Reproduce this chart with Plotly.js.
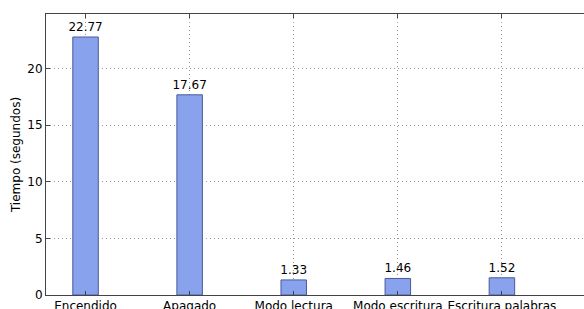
<!DOCTYPE html>
<html><head><meta charset="utf-8">
<script src="https://cdn.plot.ly/plotly-3.0.1.min.js"></script>
<style>html,body{margin:0;padding:0;overflow:hidden;background:#fff}#c{width:620px;height:340px}</style>
</head><body><div id="c"></div>
<script>
const categories = ["Encendido", "Apagado", "Modo lectura", "Modo escritura", "Escritura palabras"];
const tiempos = [22.77, 17.67, 1.33, 1.46, 1.52];
const yTicks = [0, 5, 10, 15, 20];

const trace = {
  type: 'bar',
  x: categories.map((c, i) => i),
  y: tiempos,
  width: 0.245,
  marker: {color: '#88a2ee', line: {color: '#4b5a99', width: 1}},
  text: tiempos.map(v => v.toFixed(2)),
  textposition: 'outside',
  constraintext: 'none',
  textfont: {family: 'DejaVu Sans', size: 12, color: '#000'},
  cliponaxis: false,
  hoverinfo: 'none'
};

const layout = {
  width: 620, height: 340,
  margin: {l: 46, r: 14, t: 14, b: 45},
  paper_bgcolor: '#fff', plot_bgcolor: '#fff',
  showlegend: false,
  font: {family: 'DejaVu Sans', size: 12, color: '#000'},
  xaxis: {
    range: [-0.38, 5.0],
    tickvals: categories.map((c, i) => i),
    ticktext: categories,
    showline: true, linecolor: '#444', linewidth: 1, mirror: 'ticks',
    ticks: 'inside', ticklen: 4, tickcolor: '#444',
    showgrid: true, gridcolor: '#999', griddash: '1px,3px', gridwidth: 1,
    zeroline: false, layer: 'above traces',
    tickfont: {family: 'DejaVu Sans', size: 12, color: '#000'}
  },
  yaxis: {
    range: [0, 24.8],
    tickvals: yTicks,
    showline: true, linecolor: '#444', linewidth: 1, mirror: 'ticks',
    ticks: 'inside', ticklen: 4, tickcolor: '#444',
    showgrid: true, gridcolor: '#999', griddash: '1px,3px', gridwidth: 1,
    zeroline: false, layer: 'above traces',
    tickfont: {family: 'DejaVu Sans', size: 12, color: '#000'},
    title: {text: 'Tiempo (segundos)', font: {family: 'DejaVu Sans', size: 12, color: '#000'}, standoff: 4}
  }
};

Plotly.newPlot('c', [trace], layout, {staticPlot: true, displayModeBar: false});
</script></body></html>
